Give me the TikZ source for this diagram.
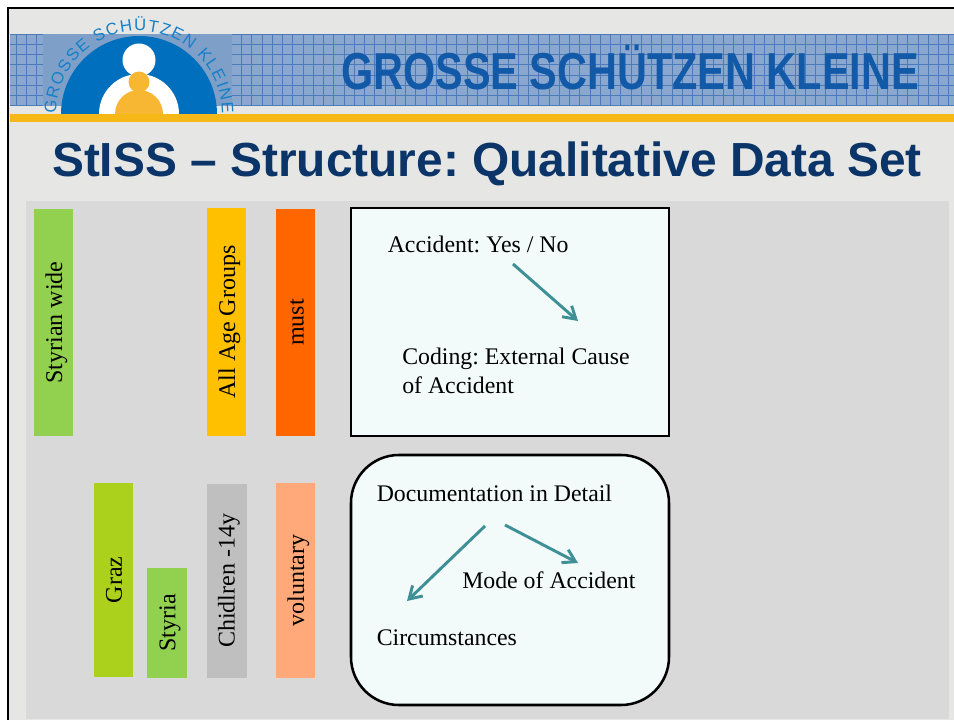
\documentclass[tikz,border=0pt]{standalone}
\usepackage{fontspec}
\setmainfont{Liberation Serif}
\newfontfamily\arialfont{Liberation Sans}
\frenchspacing
\usetikzlibrary{arrows.meta,decorations.text}
\definecolor{slidebg}{HTML}{E6E6E4}
\definecolor{panelbg}{HTML}{D9D9D9}
\definecolor{bannerbg}{HTML}{8AA8CF}
\definecolor{gridline}{HTML}{4C7BBB}
\definecolor{logobg}{HTML}{7D9FC8}
\definecolor{logoblue}{HTML}{0070BE}
\definecolor{logotext}{HTML}{1580C8}
\definecolor{stripe}{HTML}{F6B817}
\definecolor{logoorange}{HTML}{F8B733}
\definecolor{banntext}{HTML}{1259A8}
\definecolor{titletext}{HTML}{0B3568}
\definecolor{boxfill}{HTML}{F2FAFA}
\definecolor{linkteal}{HTML}{3F8F96}
\definecolor{bargreen}{HTML}{92D050}
\definecolor{barlime}{HTML}{ACD11C}
\definecolor{baryellow}{HTML}{FFC000}
\definecolor{bargrey}{HTML}{BFBFBF}
\definecolor{barorange}{HTML}{FF6600}
\definecolor{barpeach}{HTML}{FFA97A}
\tikzset{
  x=0.75pt,y=-0.75pt,
  vbar/.style={rotate=90,font=\fontsize{18}{21}\selectfont,inner sep=0pt,text=black,minimum height=29.25pt,minimum width=10pt,anchor=center},
  boxtext/.style={anchor=base west,font=\fontsize{17.85}{21}\selectfont,inner sep=0pt,text=black},
  link/.style={draw=linkteal,line width=2.2pt,-{Straight Barb[length=9pt,width=11pt,line width=2.2pt]}},
  infobox/.style={draw=black,line width=1.9pt,fill=boxfill}
}
\newcommand{\barblock}[8]{%
  \fill[#5] (#1,#2) rectangle (#3,#4);
  \node[vbar] (#6) at (#7,{(#2+#4)/2}) {#8};}
\begin{document}
\begin{tikzpicture}
\useasboundingbox (0,0) rectangle (954,720);
\fill[white] (0,0) rectangle (954,720);
\fill[slidebg] (9,8) rectangle (954,720);
\draw[black,line width=1.5pt] (8,720) -- (8,8) -- (954,8);
% banner
\fill[bannerbg] (10,34) rectangle (954,106);
\begin{scope}
\clip (10,34) rectangle (954,106);
\foreach \i in {0,...,92} \draw[gridline,line width=0.55pt] ({16+10.25*\i},34) -- ({16+10.25*\i},106);
\foreach \i in {0,...,7} \draw[gridline,line width=0.55pt] (10,{34+10.25*\i}) -- (954,{34+10.25*\i});
\end{scope}
\fill[logobg] (43,34) rectangle (232,106);
\fill[stripe] (10,114) rectangle (954,122);
% logo
\fill[logoblue] (61,114) arc[start angle=180,end angle=360,radius=78] -- cycle;
\fill[white] (139,60) circle[radius=16.5];
\fill[white] (99,114) arc[start angle=180,end angle=360,radius=40] -- cycle;
\fill[logoorange] (115,114) arc[start angle=180,end angle=360,radius=24] -- cycle;
\fill[logoorange] (139,82) circle[radius=10.5];
\path[decorate,decoration={text along path,text align=fit to path,
  text={|\arialfont\fontsize{12.5}{13}\selectfont\color{logotext}|GROSSE{ }SCH{Ü}TZEN{ }KLEINE}}]
  (56,114) arc[start angle=180,end angle=360,radius=83];
\node[inner sep=0pt,text=banntext,font=\arialfont\bfseries\fontsize{39}{44}\selectfont,xscale=0.797] (banner) at (630,67.5) {GROSSE SCHÜTZEN KLEINE};
\node[inner sep=0pt,text=titletext,font=\arialfont\bfseries\fontsize{35.9}{40}\selectfont] (title) at (487,164) {StISS – Structure: Qualitative Data Set};
% panel
\fill[panelbg] (26,201) rectangle (949,719);
\barblock{34}{209}{73}{436}{bargreen}{b1}{56.5}{Styrian wide}
\barblock{207}{208}{246}{436}{baryellow}{b2}{229.5}{All Age Groups}
\barblock{276}{209}{315}{436}{barorange}{b3}{297}{must}
\barblock{94}{483}{133}{677}{barlime}{b4}{114}{Graz}
\barblock{147}{568}{187}{678}{bargreen}{b5}{170}{Styria}
\barblock{207}{484}{247}{678}{bargrey}{b6}{229}{Chidlren -14y}
\barblock{276}{483}{315}{678}{barpeach}{b7}{298.5}{voluntary}
% boxes
\draw[infobox] (351,208) rectangle (669,436);
\draw[infobox,rounded corners=36pt] (351,455) rectangle (669,705);
\node[boxtext] (acc) at (387.5,252.5) {Accident: Yes / No};
\node[boxtext] (cod1) at (402,364.5) {Coding: External Cause};
\node[boxtext] (cod2) at (402,393.5) {of Accident};
\node[boxtext] (doc) at (376.5,501) {Documentation in Detail};
\node[boxtext] (mode) at (462,588) {Mode of Accident};
\node[boxtext] (circ) at (376.5,645) {Circumstances};
% connectors
\coordinate (a1s) at (513,264);
\coordinate (a1e) at (578,321);
\coordinate (a2s) at (485,526);
\coordinate (a2e) at (407,601);
\coordinate (a3s) at (505,525);
\coordinate (a3e) at (578,563);
\draw[link] (a1s) -- (a1e);
\draw[link] (a2s) -- (a2e);
\draw[link] (a3s) -- (a3e);
\end{tikzpicture}
\end{document}
